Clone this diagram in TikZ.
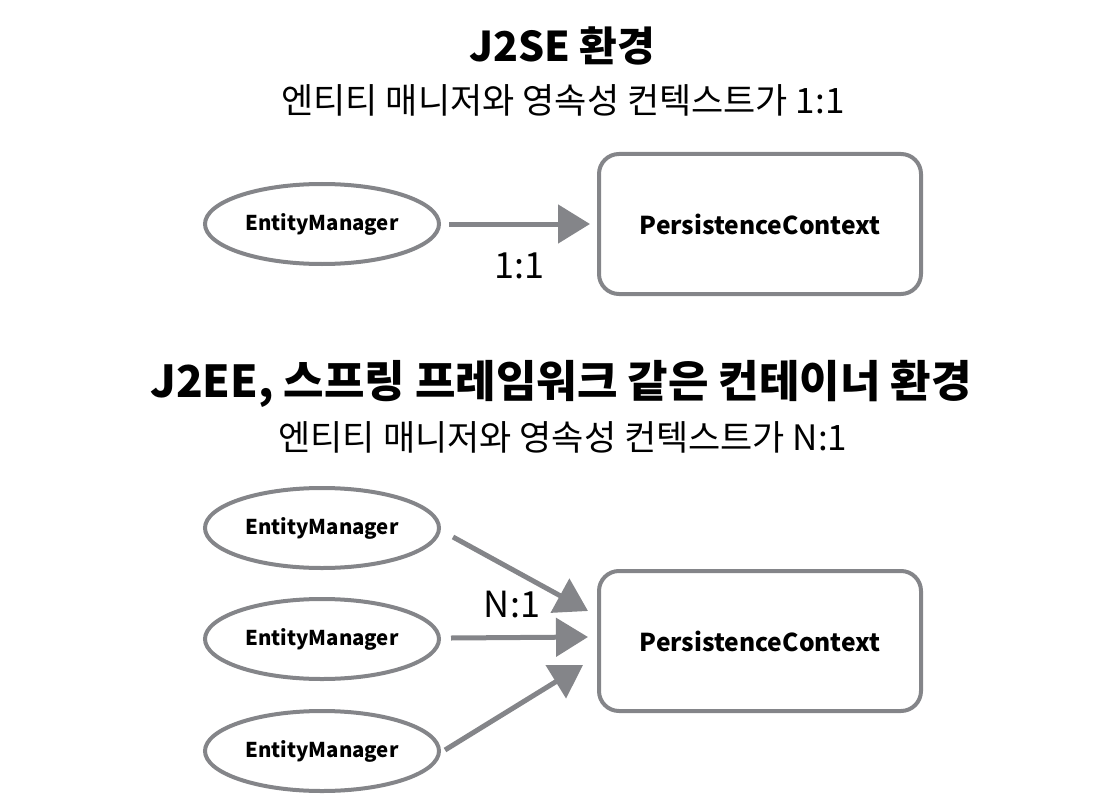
\documentclass[tikz,border=0pt]{standalone}
\usepackage{fontspec}
\setmainfont{Noto Sans CJK KR}
\usetikzlibrary{shapes.geometric,arrows.meta}
\definecolor{sk}{RGB}{132,133,137}
\begin{document}
\begin{tikzpicture}[x=1pt,y=-1pt,
  em/.style={ellipse,draw=sk,line width=4pt,minimum width=234pt,minimum height=80pt,inner sep=0pt,font=\fontsize{20.4}{24}\selectfont\bfseries},
  pc/.style={rectangle,rounded corners=20pt,draw=sk,line width=4pt,minimum width=322pt,minimum height=140pt,font=\fontsize{24.6}{29}\selectfont\bfseries},
  conn/.style={draw=sk,line width=5pt,-{Triangle[length=32pt,width=38pt]}},
  ttl/.style={font=\fontsize{41}{48}\selectfont\bfseries},
  ttlb/.style={font=\fontsize{44}{52}\selectfont\bfseries},
  sub/.style={font=\fontsize{35}{42}\selectfont},
  lbl/.style={font=\fontsize{36}{42}\selectfont}]
\useasboundingbox (0,0) rectangle (1118,805);
% top section
\node[ttl] (t1) at (562,46) {J2SE 환경};
\node[sub] (s1) at (563,100) {엔티티 매니저와 영속성 컨텍스트가 1:1};
\node[em] (e1) at (322,224) {EntityManager};
\node[pc] (p1) at (760,224) {PersistenceContext};
\node[lbl] (l1) at (519,266) {1:1};
\draw[conn,shorten <=8pt] (e1.east) -- ([xshift=-7pt]p1.west);
% bottom section
\node[ttlb] (t2) at (561,384) {J2EE, 스프링 프레임워크 같은 컨테이너 환경};
\node[sub] (s2) at (563,437) {엔티티 매니저와 영속성 컨텍스트가 N:1};
\node[em] (e2) at (322,528) {EntityManager};
\node[em] (e3) at (322,639) {EntityManager};
\node[em] (e4) at (322,751) {EntityManager};
\node[pc] (p2) at (760,641) {PersistenceContext};
\node[lbl] (l2) at (512,605) {N:1};
\coordinate (a2) at (588,611);
\coordinate (a3) at (588,637);
\coordinate (a4) at (583,665);
\draw[conn] ([shift={(12,9)}]e2.east) -- (a2);
\draw[conn] ([shift={(10,-1)}]e3.east) -- (a3);
\draw[conn] ([shift={(4,-1)}]e4.east) -- (a4);
\end{tikzpicture}
\end{document}
